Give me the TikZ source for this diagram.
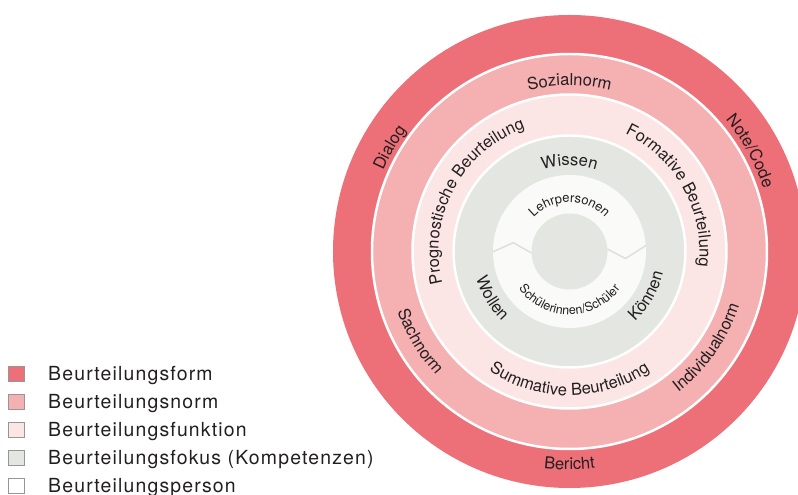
\documentclass[tikz,border=0pt]{standalone}
\usepackage{fontspec}
\setmainfont{TeX Gyre Heros}
\newfontfamily\legendfont[LetterSpace=6]{TeX Gyre Heros}
\usetikzlibrary{decorations.text}
\definecolor{cform}{RGB}{237,111,119}
\definecolor{cnorm}{RGB}{245,176,178}
\definecolor{cfunk}{RGB}{252,229,229}
\definecolor{cfokus}{RGB}{228,231,225}
\definecolor{cperson}{RGB}{250,250,249}
\definecolor{ctxt}{RGB}{35,31,32}
\definecolor{cline}{RGB}{222,224,220}
\definecolor{cborder}{RGB}{150,150,150}
\newcommand\cwtext[4]{\path[decorate,decoration={text along path,text align=center,text color=ctxt,text={|\fontsize{#3}{#3}\selectfont|#4}}] ({#1+85}:#2) arc[start angle={#1+85},end angle={#1-85},radius=#2];}
\newcommand\ccwtext[4]{\path[decorate,decoration={text along path,text align=center,text color=ctxt,text={|\fontsize{#3}{#3}\selectfont|#4}}] ({#1-85}:#2) arc[start angle={#1-85},end angle={#1+85},radius=#2];}
\tikzset{
  legbox/.style={draw=cborder, line width=0.6, minimum width=16, minimum height=15, inner sep=0},
  legtext/.style={anchor=base west, inner sep=0, font=\legendfont\fontsize{19.5}{21}\selectfont, text=ctxt},
  sep/.style={draw=white, line width=2.5}
}
\begin{document}
\begin{tikzpicture}[x=1bp,y=1bp]
\useasboundingbox (-569.5,-243.5) rectangle (228.5,251.5);
\clip (-569.5,-243.5) rectangle (228.5,251.5);
\fill[white] (-569.5,-243.5) rectangle (228.5,251.5);
% rings
\fill[cform] (0,0) circle[radius=236.5];
\fill[cnorm] (0,0) circle[radius=197.5];
\draw[sep] (0,0) circle[radius=197.5];
\fill[cfunk] (0,0) circle[radius=157];
\draw[sep] (0,0) circle[radius=157];
\fill[cfokus] (0,0) circle[radius=116];
\draw[sep] (0,0) circle[radius=116];
\fill[cperson] (0,0) circle[radius=76.5];
\fill[cfokus] (0,0) circle[radius=38];
% zigzag divider
\draw[cline, line width=1.5, line join=round] (-76.5,-0.2) -- (-56.2,8.8) -- (-38,-1.5);
\draw[cline, line width=1.5, line join=round] (37.8,2.5) -- (56,-7) -- (76.5,6);
% outer ring: Beurteilungsform
\cwtext{150}{203}{16.6}{Dialog}
\cwtext{29}{204}{16.6}{Note/Code}
\ccwtext{270}{218}{16.6}{Bericht}
% norm ring
\cwtext{90}{166}{16.6}{Sozialnorm}
\ccwtext{211}{182}{16.6}{Sachnorm}
\ccwtext{-35}{178}{16.6}{Individualnorm}
% function ring
\cwtext{152}{131}{16.6}{Prognostische Beurteilung}
\cwtext{29}{130}{16.6}{Formative Beurteilung}
\ccwtext{270}{144}{16.6}{Summative Beurteilung}
% focus ring
\cwtext{90}{86}{16.6}{Wissen}
\ccwtext{211}{97}{16.6}{Wollen}
\ccwtext{-30}{96}{16.6}{Können}
% person ring
\cwtext{90}{49}{13}{Lehrpersonen}
\ccwtext{270}{63}{12.5}{Schülerinnen/Schüler}
% legend
\node[legbox, fill=cform] (l1) at (-553.5,-122.5) {};
\node[legtext] (t1) at (-521.5,-129) {Beurteilungsform};
\node[legbox, fill=cnorm] (l2) at (-553.5,-150.5) {};
\node[legtext] (t2) at (-521.5,-157) {Beurteilungsnorm};
\node[legbox, fill=cfunk] (l3) at (-553.5,-178.5) {};
\node[legtext] (t3) at (-521.5,-185) {Beurteilungsfunktion};
\node[legbox, fill=cfokus] (l4) at (-553.5,-206.5) {};
\node[legtext] (t4) at (-521.5,-213) {Beurteilungsfokus (Kompetenzen)};
\node[legbox, fill=white] (l5) at (-553.5,-234.5) {};
\node[legtext] (t5) at (-521.5,-241) {Beurteilungsperson};
\end{tikzpicture}
\end{document}
